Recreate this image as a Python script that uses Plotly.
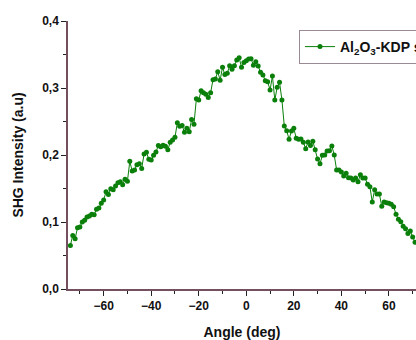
import plotly.graph_objects as go

angles = list(range(-74, 72))
intensity = [
    0.065, 0.080, 0.075, 0.0915, 0.0925, 0.100, 0.1025, 0.1075, 0.109, 0.1115,  # -74..-65
    0.111, 0.119, 0.121, 0.128, 0.133, 0.145, 0.141, 0.1497, 0.148, 0.1537,     # -64..-55
    0.1587, 0.160, 0.1557, 0.1637, 0.161, 0.1906, 0.176, 0.1776, 0.1855, 0.187, # -54..-45
    0.180, 0.2015, 0.204, 0.1936, 0.1925, 0.1995, 0.2045, 0.214, 0.2124, 0.2145, # -44..-35
    0.213, 0.208, 0.219, 0.2224, 0.2264, 0.248, 0.243, 0.244, 0.234, 0.240,     # -34..-25
    0.2348, 0.253, 0.246, 0.284, 0.282, 0.296, 0.293, 0.2906, 0.286, 0.293,     # -24..-15
    0.3124, 0.3134, 0.3243, 0.3115, 0.331, 0.320, 0.322, 0.3333, 0.328, 0.3333, # -14..-5
    0.3418, 0.345, 0.331, 0.338, 0.3407, 0.3433, 0.3437, 0.334, 0.339, 0.3328,  # -4..5
    0.3234, 0.3194, 0.311, 0.3094, 0.297, 0.318, 0.282, 0.301, 0.3085, 0.282,   # 6..15
    0.2433, 0.2363, 0.2234, 0.2358, 0.240, 0.225, 0.2234, 0.224, 0.219, 0.2095, # 16..25
    0.2195, 0.214, 0.2205, 0.208, 0.194, 0.187, 0.1995, 0.200, 0.206, 0.2064,   # 26..35
    0.2134, 0.200, 0.1776, 0.1776, 0.1746, 0.1687, 0.1727, 0.166, 0.1657, 0.1627, # 36..45
    0.1657, 0.160, 0.1706, 0.1657, 0.1657, 0.1562, 0.1527, 0.130, 0.148, 0.1418,  # 46..55
    0.1418, 0.1234, 0.130, 0.1288, 0.128, 0.1264, 0.1228, 0.1115, 0.104, 0.1004,  # 56..65
    0.0936, 0.090, 0.083, 0.0866, 0.0776, 0.0697,                                  # 66..71
]
series_name = "Al<sub>2</sub>O<sub>3</sub>-KDP sample"
x_tick_vals = [-60, -40, -20, 0, 20, 40, 60]
y_tick_vals = [0.0, 0.1, 0.2, 0.3, 0.4]

green = "#0a7f0a"
axis_col = "#74505e"
font_fam = "Liberation Sans, Arial, sans-serif"

fig = go.Figure()
fig.add_trace(go.Scatter(
    x=angles, y=intensity, mode="lines+markers", name=series_name,
    line=dict(color=green, width=1),
    marker=dict(color=green, size=5, symbol="circle"),
))

fig.update_layout(
    width=416, height=340,
    margin=dict(l=68, r=0, t=21, b=51, autoexpand=False),
    paper_bgcolor="white", plot_bgcolor="white",
    separators=",.",
    font=dict(family=font_fam, color="#111111"),
    showlegend=True,
    legend=dict(
        x=(299 - 68) / 348, y=1 - (30 - 21) / 268, xanchor="left", yanchor="top",
        bordercolor="#9a8a94", borderwidth=1, bgcolor="white",
        font=dict(family=font_fam, size=14, color="#111111", weight="bold"),
        tracegroupgap=0,
    ),
    xaxis=dict(
        range=[-75, 71.4], tickvals=x_tick_vals,
        ticks="outside", ticklen=5, tickwidth=1, tickcolor="#222",
        minor=dict(dtick=10, tick0=0, ticks="outside", ticklen=3, tickcolor="#222"),
        showline=True, linecolor=axis_col, linewidth=1.5,
        showgrid=False, zeroline=False,
        tickfont=dict(family=font_fam, size=12, color="#111111", weight="bold"),
        title=dict(text="Angle (deg)", standoff=19,
                   font=dict(family=font_fam, size=14, color="#111111", weight="bold")),
    ),
    xaxis2=dict(
        overlaying="x", side="top", anchor="y", matches="x", range=[-75, 71.4],
        tickvals=x_tick_vals, ticks="inside", ticklen=5, tickcolor="#222",
        minor=dict(dtick=10, tick0=0, ticks="inside", ticklen=3, tickcolor="#222"),
        showticklabels=False, showline=True, linecolor=axis_col, linewidth=1.5,
        showgrid=False, zeroline=False,
    ),
    yaxis=dict(
        range=[0, 0.4], tickvals=y_tick_vals, tickformat=".1f",
        ticks="outside", ticklen=5, tickwidth=1, tickcolor="#222",
        minor=dict(dtick=0.05, tick0=0, ticks="outside", ticklen=3, tickcolor="#222"),
        showline=True, linecolor=axis_col, linewidth=1.5,
        showgrid=False, zeroline=False,
        tickfont=dict(family=font_fam, size=12, color="#111111", weight="bold"),
        title=dict(text="SHG Intensity (a.u)", standoff=15,
                   font=dict(family=font_fam, size=14, color="#111111", weight="bold")),
    ),
)

fig.write_html(
    "out.html",
    config={"responsive": False, "displayModeBar": False},
    post_script="document.body.style.margin='0';document.body.style.overflow='hidden';",
)
